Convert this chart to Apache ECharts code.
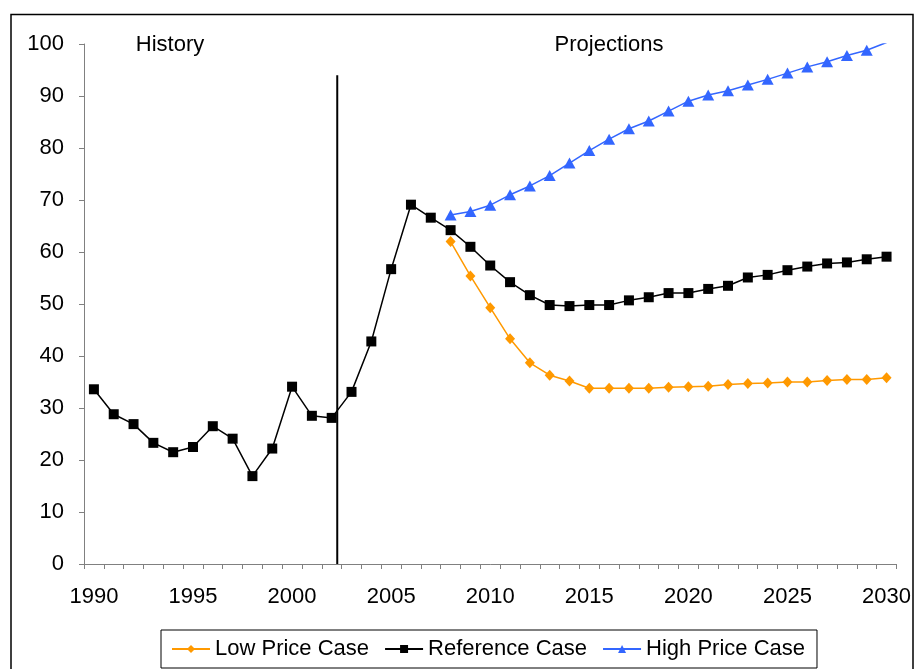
<!DOCTYPE html>
<html>
<head>
<meta charset="utf-8">
<script src="https://cdn.jsdelivr.net/npm/echarts@6/dist/echarts.min.js"></script>
<style>html,body{margin:0;padding:0;background:#fff;}#c{width:914px;height:669px;}</style>
</head>
<body>
<div id="c"></div>
<script>
const years = [];
for (let y = 1990; y <= 2030; y++) years.push(String(y));
const yTicks = [0, 10, 20, 30, 40, 50, 60, 70, 80, 90, 100];

const referenceCase = [33.6, 28.8, 26.9, 23.3, 21.5, 22.5, 26.5, 24.1, 16.9, 22.2, 34.1, 28.5, 28.1,
  33.1, 42.8, 56.7, 69.1, 66.6,
  64.2, 61.0, 57.4, 54.2, 51.7, 49.8, 49.6, 49.8, 49.8, 50.7,
  51.3, 52.1, 52.1, 52.9, 53.5,
  55.1, 55.6, 56.5, 57.2, 57.8, 58.0, 58.6, 59.1];

const lowPriceCase = [null, null, null, null, null, null, null, null, null, null, null, null, null,
  null, null, null, null, null,
  62.0, 55.4, 49.3, 43.3, 38.7, 36.3, 35.2, 33.8, 33.8, 33.8, 33.8, 34.0, 34.1, 34.2, 34.5,
  34.7, 34.8, 35.0, 35.0, 35.3, 35.5, 35.5, 35.8];

const highPriceCase = [null, null, null, null, null, null, null, null, null, null, null, null, null,
  null, null, null, null, null,
  67.1, 67.8, 69.0, 71.0, 72.7, 74.7, 77.1, 79.5, 81.7, 83.7, 85.2, 87.1, 89.0, 90.2, 91.0,
  92.1, 93.2, 94.4, 95.6, 96.6, 97.8, 98.8, 100.3];

const separatorYear = 2002.28;
const separatorTop = 94;
const sectionLabels = ['History', 'Projections'];
const seriesNames = ['Low Price Case', 'Reference Case', 'High Price Case'];

const FONT = '"Liberation Sans", Arial, sans-serif';
const chart = echarts.init(document.getElementById('c'));
chart.setOption({
  animation: false,
  backgroundColor: '#fff',
  grid: { left: 84, right: 16, top: 44, bottom: 105, containLabel: false },
  xAxis: [{
    type: 'category',
    data: years,
    boundaryGap: true,
    axisLine: { lineStyle: { color: '#808080', width: 1 } },
    axisTick: { show: true, interval: 0, length: 5, inside: false, lineStyle: { color: '#808080' } },
    axisLabel: { interval: 4, color: '#000', fontSize: 22, fontFamily: FONT, margin: 22 },
    splitLine: { show: false }
  }, {
    type: 'value',
    min: 1989.5,
    max: 2030.5,
    show: false
  }],
  yAxis: {
    type: 'value',
    min: yTicks[0],
    max: yTicks[yTicks.length - 1],
    interval: 10,
    axisLine: { show: true, lineStyle: { color: '#808080', width: 1 } },
    axisTick: { show: true, length: 5, lineStyle: { color: '#808080' } },
    axisLabel: { color: '#000', fontSize: 22, fontFamily: FONT, margin: 20 },
    splitLine: { show: false }
  },
  legend: {
    data: seriesNames,
    left: 161,
    top: 630,
    orient: 'horizontal',
    itemWidth: 38,
    itemHeight: 10,
    itemGap: 15,
    padding: [8, 12, 8, 10],
    borderColor: '#000',
    borderWidth: 1,
    textStyle: { color: '#000', fontSize: 22, fontFamily: FONT }
  },
  graphic: [
    { type: 'rect', left: 8.5, top: 12, shape: { width: 902, height: 700 }, style: { fill: 'none', stroke: '#000', lineWidth: 1.5 }, silent: true, z: -1 },
    { type: 'text', x: 170, y: 45, style: { text: sectionLabels[0], fill: '#000', font: '22px ' + FONT, textAlign: 'center', textVerticalAlign: 'middle' } },
    { type: 'text', x: 609, y: 45, style: { text: sectionLabels[1], fill: '#000', font: '22px ' + FONT, textAlign: 'center', textVerticalAlign: 'middle' } }
  ],
  series: [{
    name: seriesNames[0],
    type: 'line',
    data: lowPriceCase,
    symbol: 'diamond',
    symbolSize: [10, 11],
    color: '#FF9900',
    lineStyle: { color: '#FF9900', width: 1.5 },
    itemStyle: { color: '#FF9900' },
    z: 3
  }, {
    name: seriesNames[1],
    type: 'line',
    data: referenceCase,
    symbol: 'rect',
    symbolSize: 10,
    color: '#000',
    lineStyle: { color: '#000', width: 1.5 },
    itemStyle: { color: '#000' },
    z: 4
  }, {
    name: seriesNames[2],
    type: 'line',
    data: highPriceCase,
    symbol: 'triangle',
    symbolSize: [12, 11],
    color: '#3366FF',
    lineStyle: { color: '#3366FF', width: 1.5 },
    itemStyle: { color: '#3366FF' },
    clip: true,
    z: 3
  }, {
    name: 'separator',
    type: 'line',
    xAxisIndex: 1,
    data: [[separatorYear, 0], [separatorYear, separatorTop]],
    symbol: 'none',
    lineStyle: { color: '#000', width: 2 },
    silent: true,
    z: 2
  }]
});
</script>
</body>
</html>
